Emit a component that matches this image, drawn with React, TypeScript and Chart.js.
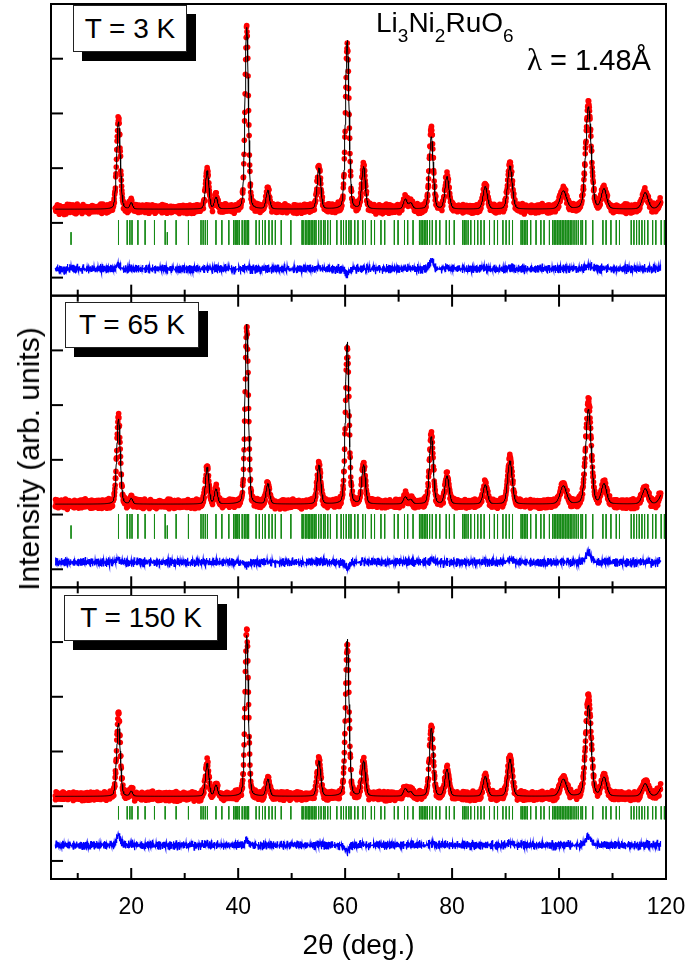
import React, { useEffect, useRef } from "react";
import { Chart, registerables } from "chart.js";

Chart.register(...registerables);

// ---------------- axes ----------------
const X_MIN = 5;
const X_MAX = 120;
const X_MAJOR = [20, 40, 60, 80, 100, 120];
const X_MINOR = [10, 30, 50, 70, 90, 110];
const Y_MAJOR = [0, 1, 2, 3, 4];
const PANEL_MIN = -0.33;
const PANEL_MAX = 5;

// ---------------- scan ----------------
const SCAN_START = 5.8;
const SCAN_END = 119.0;
const SCAN_STEP = 0.05;

// ---------------- panels ----------------
const TEMPERATURES = ["T = 3 K", "T = 65 K", "T = 150 K"];
const BACKGROUND = [1.25, 1.19, 1.18];
const DIFF_ZERO = [0.16, 0.13, 0.29];
const NUCLEAR_ROW = [
  [1.05, 0.6],
  [1.01, 0.56],
  [1.0, 0.76],
];
const MAGNETIC_ROW = [
  [0.83, 0.6],
  [0.8, 0.56],
  null,
];

// ---------------- peaks (2θ, FWHM) ----------------
const PEAK_POS = [17.62, 20.0, 34.2, 35.85, 41.6, 45.55, 55.1, 60.4, 63.45, 71.25, 72.25, 76.12, 79.05, 86.2, 90.82, 100.8, 105.5, 108.4, 116.1, 119.5];
const PEAK_FWHM = [0.8, 0.6, 0.75, 0.7, 0.75, 0.75, 0.8, 0.8, 0.8, 0.8, 0.8, 0.85, 0.9, 0.95, 1.0, 1.4, 1.2, 1.15, 1.3, 1.5];

// peak tops (observed / calculated) for each temperature
const OBS_TOP_3K = [2.92, 1.37, 1.97, 1.47, 4.59, 1.6, 2.03, 4.24, 2.04, 1.44, 1.37, 2.74, 1.86, 1.68, 2.07, 1.59, 3.19, 1.62, 1.56, 1.45];
const CALC_TOP_3K = [2.85, 1.36, 1.95, 1.46, 4.57, 1.59, 2.0, 4.33, 2.02, 1.43, 1.36, 2.57, 1.84, 1.66, 2.04, 1.58, 3.12, 1.61, 1.55, 1.44];
const OBS_TOP_65K = [2.8, 1.3, 1.87, 1.47, 4.42, 1.57, 1.92, 4.04, 1.92, 1.33, 1.28, 2.47, 1.71, 1.55, 2.04, 1.53, 3.09, 1.56, 1.48, 1.42];
const CALC_TOP_65K = [2.75, 1.29, 1.86, 1.46, 4.48, 1.56, 1.9, 4.15, 1.9, 1.32, 1.27, 2.42, 1.7, 1.54, 1.98, 1.52, 2.92, 1.55, 1.47, 1.41];
const OBS_TOP_150K = [2.71, 1.28, 1.8, 1.39, 4.22, 1.5, 1.85, 3.94, 1.83, 1.33, 1.27, 2.45, 1.68, 1.55, 1.9, 1.5, 3.0, 1.53, 1.42, 1.4];
const CALC_TOP_150K = [2.52, 1.27, 1.78, 1.38, 4.12, 1.49, 1.83, 4.05, 1.82, 1.32, 1.26, 2.42, 1.67, 1.54, 1.86, 1.49, 2.84, 1.52, 1.41, 1.39];

// ---------------- Bragg reflections ----------------
const NUCLEAR_REFLECTIONS = [
  17.62, 19.25, 19.75, 20.15, 21.25, 22.6, 24.35, 26.35, 28.4, 30.7, 33.05, 33.45, 33.85, 34.25, 35.85, 36.95,
  38.25, 39.15, 39.45, 39.75, 39.95, 40.25, 40.75, 41.15, 41.45, 41.75, 41.95, 43.35, 43.95, 44.55, 45.05,
  45.75, 46.35, 46.95, 48.05, 49.85, 51.95, 52.15, 52.55, 52.85, 53.15, 53.35, 53.65, 53.95, 54.25, 54.55,
  55.05, 55.5, 55.95, 56.25, 56.75, 57.25, 58.45, 59.25, 59.7, 60.2, 60.7, 61.1, 61.8, 62.4, 63.3, 63.8,
  64.9, 65.5, 66.7, 67.4, 69.2, 69.9, 71.1, 71.7, 72.7, 73.9, 74.2, 74.5, 74.8, 75.1, 75.4, 75.8, 76.3,
  77.0, 77.7, 78.9, 79.5, 80.4, 82.0, 82.3, 82.6, 83.0, 83.5, 84.2, 84.8, 85.4, 86.0, 87.0, 87.9, 88.5,
  89.5, 90.1, 90.7, 91.3, 92.9, 93.2, 93.5, 93.8, 94.1, 94.7, 95.7, 96.6, 97.2, 98.2, 98.8, 99.1, 99.4,
  99.7, 100.0, 100.3, 100.6, 100.9, 101.2, 101.5, 101.8, 102.1, 102.4, 102.8, 103.2, 103.6, 104.1, 104.4,
  105.0, 106.3, 108.2, 108.8, 109.7, 110.7, 111.3, 113.5, 114.0, 114.5, 115.0, 115.5, 116.0, 116.6, 117.5,
  118.1, 119.1, 119.7,
];
const MAGNETIC_REFLECTIONS = [8.75, 26.75];

// ---------------- counting noise (residual pattern) ----------------
const NOISE_A = [0.62, -0.41, 0.15, -0.88, 0.33, 0.71, -0.25, -0.59, 0.94, -0.12, 0.47, -0.76, 0.08, 0.55, -0.33, -0.97, 0.29, 0.81, -0.52, 0.11, -0.68, 0.43, 0.9, -0.2, -0.45, 0.36, -0.83, 0.58, 0.02, -0.61, 0.74, -0.37, 0.19, -0.92, 0.51, 0.27, -0.7];
const NOISE_B = [-0.3, 0.85, -0.64, 0.12, 0.49, -0.95, 0.38, -0.07, 0.66, -0.48, 0.23, 0.91, -0.57, -0.18, 0.72, -0.86, 0.05, 0.44, -0.39, 0.97, -0.69, 0.31, -0.14, 0.6, -0.8, 0.17, 0.53, -0.26, -0.74, 0.88, -0.43, 0.09, 0.68, -0.99, 0.35, -0.21, 0.79, -0.55, 0.14, 0.46, -0.9, 0.63, -0.1, -0.6, 0.26, 0.84, -0.35, -0.78, 0.57, 0.03, -0.47, 0.92, -0.16];
const NOISE_SCALE = 0.05;

// ---------------- layout (not data) ----------------
const FONT = "'Liberation Sans', Arial, Helvetica, sans-serif";
const SERIF = "'Liberation Serif', 'DejaVu Serif', serif";
const LABEL_BOXES = [
  { left: 73, top: 5, width: 114, height: 47 },
  { left: 65, top: 302, width: 134, height: 46 },
  { left: 64, top: 595, width: 154, height: 46 },
];

const OBS_TOPS = [OBS_TOP_3K, OBS_TOP_65K, OBS_TOP_150K];
const CALC_TOPS = [CALC_TOP_3K, CALC_TOP_65K, CALC_TOP_150K];
const SPAN = PANEL_MAX - PANEL_MIN;
const PANEL_OFFSET = [2 * SPAN, SPAN, 0];

function profile(x: number, tops: number[], bg: number) {
  let s = bg;
  for (let k = 0; k < PEAK_POS.length; k++) {
    const d = (x - PEAK_POS[k]) / PEAK_FWHM[k];
    const g = Math.exp(-4 * Math.LN2 * d * d);
    const l = 1 / (1 + 4 * d * d);
    s += (tops[k] - bg) * (0.78 * g + 0.22 * l);
  }
  return s;
}

function buildDatasets() {
  const sets: any[] = [];
  const n = Math.round((SCAN_END - SCAN_START) / SCAN_STEP);
  for (let p = 0; p < 3; p++) {
    const off = PANEL_OFFSET[p];
    const bg = BACKGROUND[p];
    const obs: any[] = [];
    const calc: any[] = [];
    const diff: any[] = [];
    for (let i = 0; i <= n; i++) {
      const x = SCAN_START + i * SCAN_STEP;
      const c = profile(x, CALC_TOPS[p], bg);
      const oModel = profile(x, OBS_TOPS[p], bg);
      const noise = NOISE_SCALE * (NOISE_A[(i + 7 * p) % NOISE_A.length] + NOISE_B[(i + 13 * p) % NOISE_B.length]);
      const o = oModel + noise;
      obs.push({ x, y: o + off });
      calc.push({ x, y: c + off });
      diff.push({ x, y: DIFF_ZERO[p] + (o - c) + off });
    }
    const ticks: any[] = [];
    const [nh, nl] = NUCLEAR_ROW[p];
    for (const r of NUCLEAR_REFLECTIONS) {
      ticks.push({ x: r, y: nh + off }, { x: r, y: nl + off }, { x: r, y: NaN });
    }
    const mRow = MAGNETIC_ROW[p];
    if (mRow) {
      for (const r of MAGNETIC_REFLECTIONS) {
        ticks.push({ x: r, y: mRow[0] + off }, { x: r, y: mRow[1] + off }, { x: r, y: NaN });
      }
    }
    sets.push({
      label: `calc ${p}`,
      data: calc,
      borderColor: "#000000",
      borderWidth: 1,
      pointRadius: 0,
      order: 0,
    });
    sets.push({
      label: `obs ${p}`,
      data: obs,
      showLine: false,
      pointRadius: 2.8,
      pointBorderWidth: 0,
      pointBackgroundColor: "#ff0000",
      borderColor: "#ff0000",
      order: 1,
    });
    sets.push({
      label: `diff ${p}`,
      data: diff,
      borderColor: "#0000ff",
      borderWidth: 1.2,
      pointRadius: 0,
      order: 2,
    });
    sets.push({
      label: `bragg ${p}`,
      data: ticks,
      borderColor: "#168a16",
      borderWidth: 1,
      pointRadius: 0,
      spanGaps: false,
      order: 3,
    });
  }
  return sets;
}

const framePlugin = {
  id: "panelFrames",
  afterDatasetsDraw(chart: any) {
    const { ctx, chartArea, scales } = chart;
    const x = scales.x;
    const y = scales.y;
    const left = chartArea.left;
    const right = chartArea.right;
    ctx.save();
    ctx.strokeStyle = "#000";
    ctx.lineWidth = 2;
    const line = (x1: number, y1: number, x2: number, y2: number) => {
      ctx.beginPath();
      ctx.moveTo(x1, y1);
      ctx.lineTo(x2, y2);
      ctx.stroke();
    };
    for (let p = 0; p < 3; p++) {
      const off = PANEL_OFFSET[p];
      const top = y.getPixelForValue(off + PANEL_MAX);
      const bottom = y.getPixelForValue(off + PANEL_MIN);
      ctx.strokeRect(left, top, right - left, bottom - top);
      for (const t of Y_MAJOR) {
        const py = y.getPixelForValue(off + t);
        line(left, py, left + 12, py);
      }
      for (const t of X_MAJOR) {
        const px = x.getPixelForValue(t);
        line(px, bottom, px, bottom - 11);
        if (p > 0) line(px, top, px, top + 11);
      }
      for (const t of X_MINOR) {
        const px = x.getPixelForValue(t);
        line(px, bottom, px, bottom - 6);
        if (p > 0) line(px, top, px, top + 6);
      }
    }
    ctx.restore();
  },
};

export default function App() {
  const canvasRef = useRef<HTMLCanvasElement | null>(null);

  useEffect(() => {
    const canvas = canvasRef.current;
    if (!canvas) return;
    const chart = new Chart(canvas, {
      type: "line",
      data: { datasets: buildDatasets() },
      options: {
        animation: false,
        responsive: false,
        devicePixelRatio: 1,
        parsing: false,
        normalized: true,
        events: [],
        layout: { padding: { top: 2, right: 19, left: 0, bottom: 0 } },
        plugins: {
          legend: { display: false },
          tooltip: { enabled: false },
          title: { display: false },
        },
        scales: {
          x: {
            type: "linear",
            min: X_MIN,
            max: X_MAX,
            position: "bottom",
            afterBuildTicks: (s: any) => {
              s.ticks = X_MAJOR.map((v) => ({ value: v }));
            },
            afterFit: (s: any) => {
              s.height = 84;
              s.paddingLeft = 0;
              s.paddingRight = 0;
            },
            grid: { display: false, drawTicks: false },
            border: { display: false },
            ticks: {
              padding: 15,
              color: "#000",
              autoSkip: false,
              maxRotation: 0,
              font: { family: FONT, size: 23 },
            },
            title: {
              display: true,
              text: "2θ (deg.)",
              color: "#000",
              font: { family: FONT, size: 28 },
              padding: { top: 0, bottom: 0 },
            },
          },
          y: {
            type: "linear",
            min: PANEL_MIN,
            max: 2 * SPAN + PANEL_MAX,
            afterFit: (s: any) => {
              s.width = 51;
              s.paddingTop = 0;
              s.paddingBottom = 0;
            },
            grid: { display: false, drawTicks: false },
            border: { display: false },
            ticks: { display: false },
            title: { display: false },
          },
        },
      } as any,
      plugins: [framePlugin],
    });
    return () => chart.destroy();
  }, []);

  return (
    <div style={{ position: "absolute", left: 0, top: 0, width: 685, height: 963, background: "#fff", overflow: "hidden" }}>
      <canvas ref={canvasRef} width={685} height={963} style={{ display: "block" }} />
      <div
        style={{
          position: "absolute",
          left: 29,
          top: 459,
          transform: "translate(-50%, -50%) rotate(-90deg)",
          fontFamily: FONT,
          fontSize: 30,
          lineHeight: "30px",
          color: "#000",
          whiteSpace: "nowrap",
        }}
      >
        Intensity (arb. units)
      </div>
      {LABEL_BOXES.map((b, i) => (
        <React.Fragment key={i}>
          <div
            style={{
              position: "absolute",
              left: b.left + 9,
              top: b.top + 9,
              width: b.width,
              height: b.height,
              background: "#000",
            }}
          />
          <div
            style={{
              position: "absolute",
              left: b.left,
              top: b.top,
              width: b.width,
              height: b.height,
              boxSizing: "border-box",
              background: "#fff",
              border: "1px solid #222",
              display: "flex",
              alignItems: "center",
              justifyContent: "center",
              fontFamily: FONT,
              fontSize: 28,
              color: "#000",
              lineHeight: "28px",
              whiteSpace: "nowrap",
            }}
          >
            {TEMPERATURES[i]}
          </div>
        </React.Fragment>
      ))}
      <div
        style={{
          position: "absolute",
          left: 376,
          top: 9,
          fontFamily: FONT,
          fontSize: 28,
          lineHeight: "28px",
          color: "#000",
          whiteSpace: "nowrap",
        }}
      >
        Li<span style={{ fontSize: 19, verticalAlign: "-10px" }}>3</span>Ni
        <span style={{ fontSize: 19, verticalAlign: "-10px" }}>2</span>RuO
        <span style={{ fontSize: 19, verticalAlign: "-10px" }}>6</span>
      </div>
      <div
        style={{
          position: "absolute",
          left: 527,
          top: 45,
          fontFamily: FONT,
          fontSize: 29,
          lineHeight: "29px",
          color: "#000",
          whiteSpace: "nowrap",
        }}
      >
        <span style={{ fontFamily: SERIF, fontSize: 31 }}>λ</span> = 1.48Å
      </div>
    </div>
  );
}
